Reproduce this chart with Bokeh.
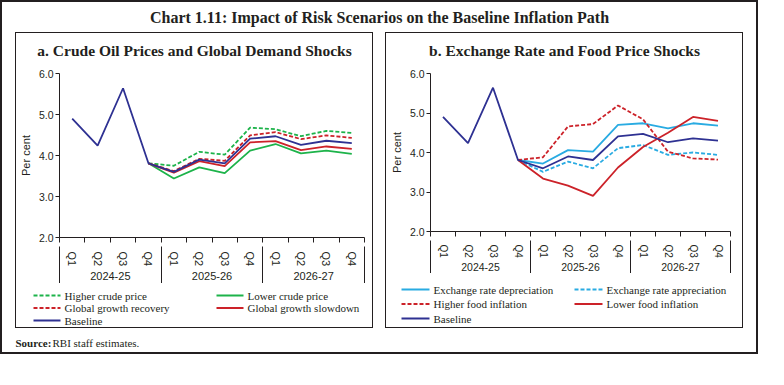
from bokeh.plotting import figure
from bokeh.models import (FactorRange, Range1d, LinearAxis, CategoricalAxis, FixedTicker,
                          SingleIntervalTicker, PrintfTickFormatter, Spacer)
from bokeh.layouts import column, row
from bokeh.core.properties import value
from bokeh.embed import file_html
from bokeh.resources import INLINE

# ---------------- data ----------------
years = ["2024-25", "2025-26", "2026-27"]
quarters = ["Q1", "Q2", "Q3", "Q4"]
factors = [(y, q) for y in years for q in quarters]

baseline = [4.90, 4.24, 5.64, 3.81, 3.60, 3.90, 3.81, 4.41, 4.47, 4.26, 4.36, 4.30]
# scenarios start from Q4 2024-25
higher_crude = [3.81, 3.75, 4.09, 4.02, 4.68, 4.64, 4.47, 4.60, 4.55]
lower_crude = [3.81, 3.44, 3.71, 3.57, 4.12, 4.28, 4.05, 4.12, 4.04]
growth_recovery = [3.81, 3.62, 3.92, 3.87, 4.49, 4.57, 4.40, 4.49, 4.43]
growth_slowdown = [3.81, 3.58, 3.86, 3.74, 4.32, 4.35, 4.13, 4.22, 4.16]

er_depreciation = [3.81, 3.72, 4.06, 4.02, 4.70, 4.74, 4.61, 4.74, 4.68]
er_appreciation = [3.81, 3.51, 3.77, 3.60, 4.11, 4.19, 3.94, 4.00, 3.94]
higher_food = [3.81, 3.88, 4.66, 4.72, 5.19, 4.84, 4.02, 3.85, 3.82]
lower_food = [3.81, 3.34, 3.16, 2.90, 3.62, 4.14, 4.50, 4.90, 4.80]

main_title = "Chart 1.11: Impact of Risk Scenarios on the Baseline Inflation Path"
title_a = "a. Crude Oil Prices and Global Demand Shocks"
title_b = "b. Exchange Rate and Food Price Shocks"
y_label = "Per cent"

NAVY = "#2e3192"
GREEN = "#1db34a"
RED = "#cc2229"
BLUE = "#29abe2"
INK = "#231f20"
SERIF = "Liberation Serif"
SANS = "Liberation Sans"

n_cat = len(factors)
boundaries = list(range(n_cat + 1))              # category edges (synthetic coords)
year_edges = list(range(0, n_cat + 1, len(quarters)))


def no_align(f):
    # keep each figure's frame independent of its neighbours in the layout
    if "frame_align" in f.properties():
        f.frame_align = False
    return f


def blank(w, h):
    f = figure(width=w, height=h, output_backend="svg", toolbar_location=None,
               x_range=Range1d(0, w), y_range=Range1d(0, h), x_axis_location=None,
               y_axis_location=None, min_border=0, outline_line_color=None)
    f.grid.grid_line_color = None
    return no_align(f)


def title_strip(text, w, h, y):
    f = blank(w, h)
    f.text(x=[w / 2], y=[y], text=[text], text_align="center", text_baseline="middle",
           text_font=value(SERIF), text_font_size="15.5px", text_font_style="bold", text_color=INK)
    return f


def chart(series, w, h, mb, q_font, g_font, standoff, sep_len):
    p = figure(width=w, height=h, output_backend="svg", toolbar_location=None,
               x_range=FactorRange(*factors, range_padding=0, factor_padding=0,
                                   group_padding=0, subgroup_padding=0),
               y_range=Range1d(2, 6), x_axis_location=None,
               min_border_left=mb[0], min_border_right=mb[1],
               min_border_top=mb[2], min_border_bottom=mb[3],
               outline_line_color=None)
    no_align(p)
    p.grid.grid_line_color = None

    ya = p.yaxis[0]
    ya.ticker = SingleIntervalTicker(interval=1, num_minor_ticks=0)
    ya.formatter = PrintfTickFormatter(format="%.1f")
    ya.major_tick_out = 4
    ya.major_tick_in = 0
    ya.minor_tick_line_color = None
    ya.axis_line_color = INK
    ya.major_tick_line_color = INK
    ya.major_label_text_font = SANS
    ya.major_label_text_font_size = "10.5px"
    ya.major_label_text_color = INK
    ya.major_label_standoff = 2
    ya.axis_label = y_label
    ya.axis_label_text_font = SANS
    ya.axis_label_text_font_size = "11px"
    ya.axis_label_text_font_style = "normal"
    ya.axis_label_text_color = INK
    ya.axis_label_standoff = 4

    ax_ticks = LinearAxis(ticker=FixedTicker(ticks=boundaries, minor_ticks=[]),
                          major_tick_out=5, major_tick_in=0, axis_line_color=INK,
                          major_tick_line_color=INK, major_label_text_font_size="0px",
                          major_label_text_color=None, major_label_standoff=0)
    p.add_layout(ax_ticks, "below")

    cax = CategoricalAxis(major_tick_line_color=None, axis_line_color=None,
                          separator_line_color=None, major_label_orientation="vertical",
                          major_label_text_font=SANS, major_label_text_font_size=q_font,
                          major_label_text_color=INK, major_label_standoff=standoff,
                          group_text_font=SANS, group_text_font_size=g_font,
                          group_text_font_style="normal", group_text_color=INK)
    p.add_layout(cax, "below")

    ax_sep = LinearAxis(ticker=FixedTicker(ticks=year_edges, minor_ticks=[]),
                        major_tick_in=sep_len, major_tick_out=0, axis_line_color=None,
                        major_tick_line_color=INK, major_label_text_font_size="0px",
                        major_label_text_color=None, major_label_standoff=0)
    p.add_layout(ax_sep, "below")

    for label, data, color, dash in series:
        xs = factors if len(data) == len(factors) else factors[len(factors) - len(data):]
        p.line(x=xs, y=data, line_color=color, line_width=1.8, line_dash=dash)
    return p


def legend_strip(series, w, h, rows_y, cols_x, key_w):
    f = blank(w, h)
    for i, (label, _data, color, dash) in enumerate(series):
        r, c = divmod(i, 2)
        x0, y0 = cols_x[c], rows_y[r]
        f.line(x=[x0, x0 + key_w], y=[y0, y0], line_color=color, line_width=1.8, line_dash=dash)
        f.text(x=[x0 + key_w + 4], y=[y0], text=[label], text_align="left",
               text_baseline="middle", text_font=value(SERIF), text_font_size="11px",
               text_color=INK)
    return f


series_a = [
    ("Higher crude price", higher_crude, GREEN, "4 2"),
    ("Lower crude price", lower_crude, GREEN, "solid"),
    ("Global growth recovery", growth_recovery, RED, "4 2"),
    ("Global growth slowdown", growth_slowdown, RED, "solid"),
    ("Baseline", baseline, NAVY, "solid"),
]
series_b = [
    ("Exchange rate depreciation", er_depreciation, BLUE, "solid"),
    ("Exchange rate appreciation", er_appreciation, BLUE, "4 2"),
    ("Higher food inflation", higher_food, RED, "4 2"),
    ("Lower food inflation", lower_food, RED, "solid"),
    ("Baseline", baseline, NAVY, "solid"),
]

W = 356
ta = title_strip(title_a, W, 26, 9)
ca = chart(series_a, W, 224, (42, 8, 14, 42), "11px", "11px", 3, 37)
la = legend_strip(series_a, W, 44, [32, 19.5, 7], [17, 200], 27)

tb = title_strip(title_b, W, 26, 9)
cb = chart(series_b, W, 214, (44, 12, 14, 37), "10px", "10.5px", 2, 33)
lb = legend_strip(series_b, W, 54, [38, 23.5, 9], [15, 188], 28)

panel_css = {"border": "1px solid " + INK, "box-sizing": "content-box"}
pa = column(ta, ca, la, styles=panel_css)
pb = column(tb, cb, lb, styles=panel_css)

# title strip
top = blank(754, 30)
top.text(x=[377], y=[15], text=[main_title], text_align="center", text_baseline="middle",
         text_font=value(SERIF), text_font_size="16px", text_font_style="bold", text_color=INK)

bottom = blank(754, 24)
bottom.text(x=[13], y=[10], text=["Source:"], text_align="left", text_baseline="middle",
            text_font=value(SERIF), text_font_size="11px", text_font_style="bold", text_color=INK)
bottom.text(x=[50], y=[10], text=["RBI staff estimates."], text_align="left", text_baseline="middle",
            text_font=value(SERIF), text_font_size="11px", text_color=INK)

mid = row(Spacer(width=13), pa, Spacer(width=12), pb, Spacer(width=13))
layout = column(top, mid, bottom, styles={"border": "2px solid " + INK, "box-sizing": "content-box"})

open("out.html", "w").write(file_html(layout, INLINE))
